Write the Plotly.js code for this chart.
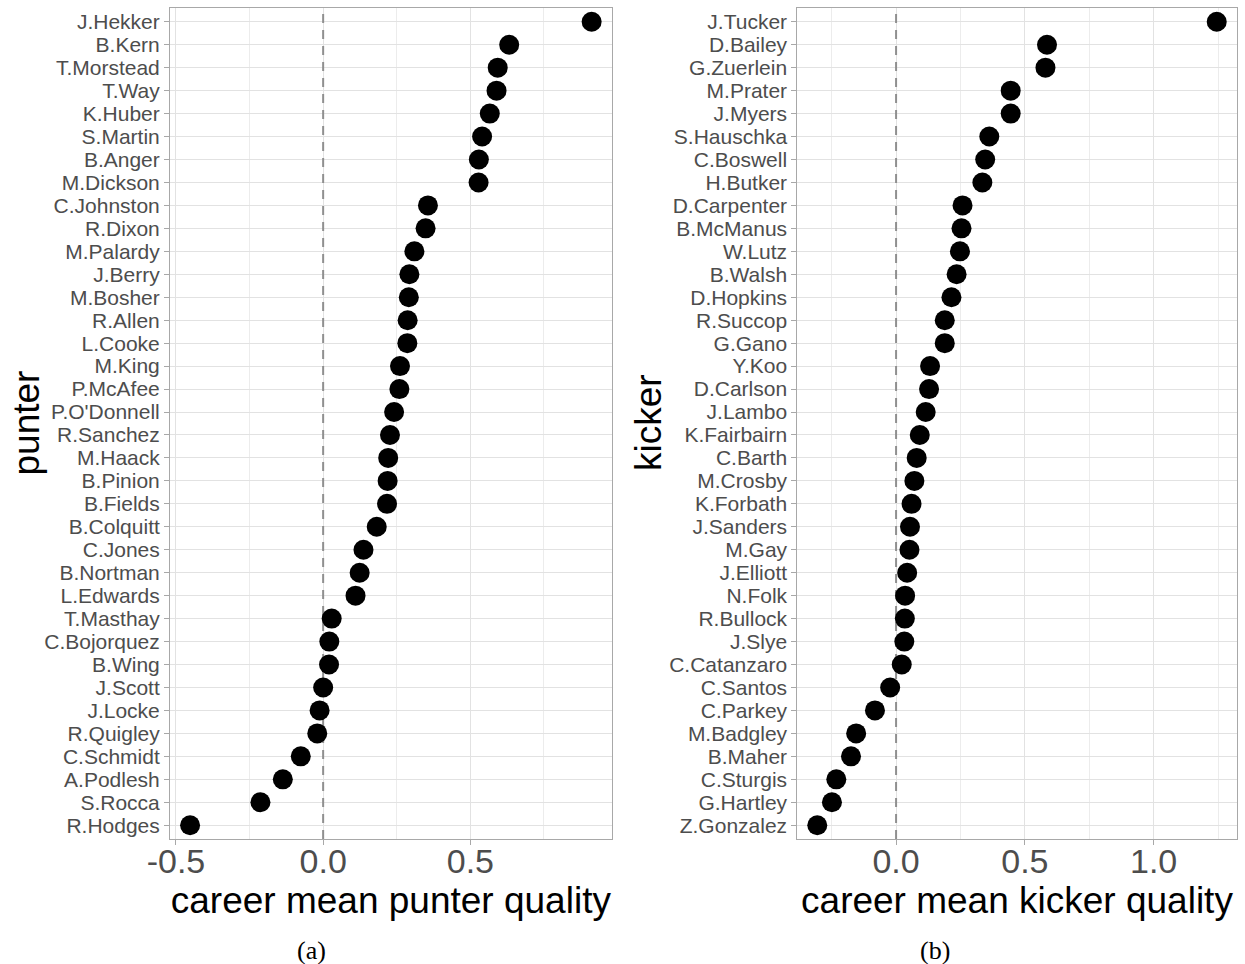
<!DOCTYPE html>
<html>
<head>
<meta charset="utf-8">
<script src="https://cdn.plot.ly/plotly-3.0.1.min.js"></script>
<style>
html,body{margin:0;padding:0;background:#ffffff;}
#chart{width:1245px;height:964px;}
</style>
</head>
<body>
<div id="chart"></div>
<script>
// ---- data (top to bottom as drawn) ----
const punters = ["J.Hekker","B.Kern","T.Morstead","T.Way","K.Huber","S.Martin","B.Anger","M.Dickson",
  "C.Johnston","R.Dixon","M.Palardy","J.Berry","M.Bosher","R.Allen","L.Cooke","M.King","P.McAfee",
  "P.O'Donnell","R.Sanchez","M.Haack","B.Pinion","B.Fields","B.Colquitt","C.Jones","B.Nortman",
  "L.Edwards","T.Masthay","C.Bojorquez","B.Wing","J.Scott","J.Locke","R.Quigley","C.Schmidt",
  "A.Podlesh","S.Rocca","R.Hodges"];
const punterQuality = [0.912,0.632,0.593,0.589,0.566,0.540,0.529,0.528,
  0.356,0.348,0.310,0.293,0.291,0.287,0.286,0.261,0.259,
  0.241,0.227,0.221,0.219,0.217,0.182,0.137,0.124,
  0.110,0.029,0.021,0.020,0.000,-0.012,-0.020,-0.076,
  -0.137,-0.213,-0.452];

const kickers = ["J.Tucker","D.Bailey","G.Zuerlein","M.Prater","J.Myers","S.Hauschka","C.Boswell","H.Butker",
  "D.Carpenter","B.McManus","W.Lutz","B.Walsh","D.Hopkins","R.Succop","G.Gano","Y.Koo","D.Carlson",
  "J.Lambo","K.Fairbairn","C.Barth","M.Crosby","K.Forbath","J.Sanders","M.Gay","J.Elliott","N.Folk",
  "R.Bullock","J.Slye","C.Catanzaro","C.Santos","C.Parkey","M.Badgley","B.Maher","C.Sturgis",
  "G.Hartley","Z.Gonzalez"];
const kickerQuality = [1.245,0.586,0.580,0.445,0.445,0.362,0.346,0.335,
  0.258,0.254,0.248,0.235,0.215,0.189,0.189,0.132,0.128,
  0.115,0.092,0.080,0.071,0.060,0.054,0.052,0.043,0.035,
  0.034,0.032,0.022,-0.023,-0.082,-0.155,-0.175,-0.232,
  -0.249,-0.306];

// reference line (x = 0) spanning the whole panel height (0..1 of the panel)
const refLineX = [0, 0];
const refLineSpan = [0, 1];

const punterTickVals = [-0.5, 0.0, 0.5];
const punterTickText = ["-0.5", "0.0", "0.5"];
const kickerTickVals = [0.0, 0.5, 1.0];
const kickerTickText = ["0.0", "0.5", "1.0"];

const punterXTitle = "career mean punter quality";
const kickerXTitle = "career mean kicker quality";
const punterYTitle = "punter";
const kickerYTitle = "kicker";
const panelLabels = ["(a)", "(b)"];

// ---- helpers ----
function padRange(vals){
  const lo = Math.min(...vals), hi = Math.max(...vals);
  const e = 0.05*(hi-lo);
  return [lo-e, hi+e];
}
function catRange(n){ return [n-1+0.6, -0.6]; }

const SANS = "Liberation Sans, Arial, Helvetica, sans-serif";
const SERIF = "Liberation Serif, Times New Roman, serif";
const GRID = "#e2e2e2";
const MINOR = "#ececec";
const BORDER = "#a8a8a8";

function xAxis(domain, anchor, tv, tt, vals, title){
  return {
    domain: domain, anchor: anchor,
    range: padRange(vals), autorange: false,
    tickmode: "array", tickvals: tv, ticktext: tt,
    ticks: "outside", ticklen: 5, tickwidth: 1, tickcolor: BORDER,
    ticklabelstandoff: -13,
    tickfont: {family: SANS, size: 34, color: "#4d4d4d"},
    showgrid: true, gridcolor: GRID, gridwidth: 1,
    minor: {tickmode: "linear", tick0: 0, dtick: 0.25, showgrid: true, gridcolor: MINOR, gridwidth: 1, ticks: ""},
    zeroline: false,
    showline: true, mirror: true, linecolor: BORDER, linewidth: 1,
    automargin: false,
    title: {text: title, font: {family: SANS, size: 37, color: "#000000"}, standoff: 3}
  };
}
function baseY(domain, anchor){
  return {domain: domain, anchor: anchor, range: [0, 1], autorange: false,
          visible: false, showgrid: false, zeroline: false, fixedrange: true};
}
function catY(domain, anchor, over, cats){
  return {
    domain: domain, anchor: anchor, overlaying: over, side: "left",
    type: "category", categoryorder: "array", categoryarray: cats,
    tickmode: "array", tickvals: cats, ticktext: cats,
    range: catRange(cats.length), autorange: false,
    ticks: "outside", ticklen: 5, tickwidth: 1, tickcolor: BORDER,
    tickfont: {family: SANS, size: 21, color: "#4d4d4d"},
    showgrid: true, gridcolor: GRID, gridwidth: 1,
    zeroline: false,
    showline: true, mirror: true, linecolor: BORDER, linewidth: 1,
    automargin: false
  };
}

const DASH = {color: "#8f8f8f", width: 2, dash: "9px,7px"};
const DOT = {size: 20, color: "#000000", line: {width: 0}};

const traces = [
  {type: "scatter", mode: "lines", x: refLineX, y: refLineSpan, xaxis: "x", yaxis: "y",
   line: DASH, hoverinfo: "skip", showlegend: false},
  {type: "scatter", mode: "lines", x: refLineX, y: refLineSpan, xaxis: "x2", yaxis: "y2",
   line: DASH, hoverinfo: "skip", showlegend: false},
  {type: "scatter", mode: "markers", x: punterQuality, y: punters, xaxis: "x", yaxis: "y3",
   marker: DOT, hoverinfo: "x+y", showlegend: false},
  {type: "scatter", mode: "markers", x: kickerQuality, y: kickers, xaxis: "x2", yaxis: "y4",
   marker: DOT, hoverinfo: "x+y", showlegend: false}
];

const yDom = [0.12967, 0.99170];
const layout = {
  width: 1245, height: 964,
  margin: {l: 0, r: 0, t: 0, b: 0},
  paper_bgcolor: "#ffffff", plot_bgcolor: "#ffffff",
  showlegend: false,
  xaxis: xAxis([0.13655, 0.49133], "y", punterTickVals, punterTickText, punterQuality, punterXTitle),
  yaxis: baseY(yDom, "x"),
  yaxis3: catY(yDom, "x", "y", punters),
  xaxis2: xAxis([0.64040, 0.99333], "y2", kickerTickVals, kickerTickText, kickerQuality, kickerXTitle),
  yaxis2: baseY(yDom, "x2"),
  yaxis4: catY(yDom, "x2", "y2", kickers),
  annotations: [
    {text: punterYTitle, xref: "paper", yref: "paper", x: 25.5/1245, y: (964-423)/964,
     xanchor: "center", yanchor: "middle", textangle: -90, showarrow: false,
     font: {family: SANS, size: 37, color: "#000000"}},
    {text: kickerYTitle, xref: "paper", yref: "paper", x: 648/1245, y: (964-423)/964,
     xanchor: "center", yanchor: "middle", textangle: -90, showarrow: false,
     font: {family: SANS, size: 37, color: "#000000"}},
    {text: panelLabels[0], xref: "paper", yref: "paper", x: 0.2498, y: 0.0145, xanchor: "center", yanchor: "middle",
     showarrow: false, font: {family: SERIF, size: 26, color: "#000000"}},
    {text: panelLabels[1], xref: "paper", yref: "paper", x: 0.7510, y: 0.0145, xanchor: "center", yanchor: "middle",
     showarrow: false, font: {family: SERIF, size: 26, color: "#000000"}}
  ]
};

Plotly.newPlot("chart", traces, layout, {displayModeBar: false, staticPlot: true});
</script>
</body>
</html>
